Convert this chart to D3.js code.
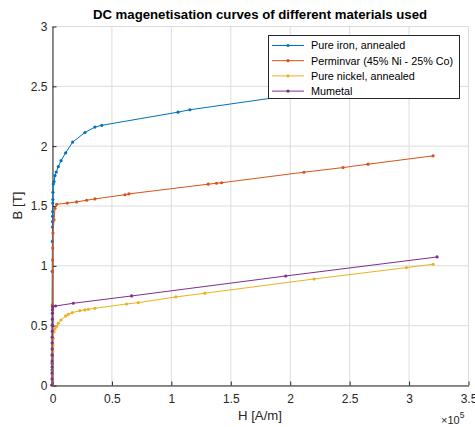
<!DOCTYPE html>
<html>
<head>
<meta charset="utf-8">
<script src="https://cdn.jsdelivr.net/npm/d3@7"></script>
<style>
  html, body { margin: 0; padding: 0; background: #fff; }
  svg { display: block; font-family: "Liberation Sans", Arial, sans-serif; }
</style>
</head>
<body>
<svg id="chart" width="475" height="427"></svg>
<script>
// DC magnetisation (B-H) curves; H in A/m, B in T
const pureIron = [
  [0, 0], [60, 0.125], [90, 0.18], [200, 0.95], [300, 1.2], [400, 1.32],
  [450, 1.365], [500, 1.41], [550, 1.45], [650, 1.52], [700, 1.55], [800, 1.61],
  [1100, 1.68], [1700, 1.70], [2500, 1.75], [3600, 1.78], [5300, 1.825],
  [7600, 1.875], [11500, 1.94], [17400, 2.03], [27700, 2.11], [36100, 2.155],
  [41800, 2.17], [106000, 2.28], [116000, 2.30], [321000, 2.59]
];
const perminvar = [
  [0, 0], [100, 0.25], [200, 0.5], [300, 0.67], [400, 0.947], [500, 1.045],
  [600, 1.145], [800, 1.27], [1700, 1.38], [2500, 1.477], [3900, 1.51],
  [12900, 1.52], [20700, 1.53], [29100, 1.544], [36100, 1.555], [61400, 1.59],
  [64700, 1.597], [131400, 1.678], [138400, 1.686], [142600, 1.69],
  [211900, 1.778], [244900, 1.817], [265900, 1.845], [320600, 1.915]
];
const pureNickel = [
  [0, 0], [200, 0.1], [400, 0.2], [600, 0.28], [800, 0.33], [1000, 0.39],
  [1700, 0.445], [2500, 0.47], [3900, 0.49], [5300, 0.516], [7600, 0.543],
  [11500, 0.577], [13700, 0.591], [17100, 0.605], [23500, 0.621], [27700, 0.627],
  [30500, 0.633], [36100, 0.641], [62800, 0.677], [72600, 0.688], [104200, 0.736],
  [128600, 0.767], [220500, 0.886], [298200, 0.981], [320600, 1.009]
];
const mumetal = [
  [0, 0], [20, 0.05], [40, 0.1], [60, 0.15], [80, 0.2], [100, 0.25], [120, 0.3],
  [150, 0.35], [180, 0.4], [220, 0.45], [260, 0.5], [300, 0.55], [350, 0.6],
  [400, 0.63], [500, 0.655], [3000, 0.66], [17900, 0.683], [67000, 0.744],
  [196700, 0.911], [324000, 1.07]
];

const seriesNames = ["Pure iron, annealed", "Perminvar (45% Ni - 25% Co)", "Pure nickel, annealed", "Mumetal"];
const seriesData = [pureIron, perminvar, pureNickel, mumetal];
const seriesColors = ["#0072BD", "#D95319", "#EDB120", "#7E2F8E"];

const xTicks = [0, 0.5e5, 1e5, 1.5e5, 2e5, 2.5e5, 3e5, 3.5e5];
const yTicks = [0, 0.5, 1, 1.5, 2, 2.5, 3];

const svg = d3.select("#chart");
const plotL = 52, plotR = 468, plotT = 26, plotB = 385;

const x = d3.scaleLinear().domain([0, 3.5e5]).range([plotL, plotR]);
const y = d3.scaleLinear().domain([0, 3]).range([plotB, plotT]);

const axisColor = "#262626";
const gridColor = "#dcdcdc";
const fontFamily = "'Liberation Sans', Arial, sans-serif";

// grid
const grid = svg.append("g");
grid.selectAll("line.gx").data(xTicks).join("line")
  .attr("x1", d => x(d) + 0.5).attr("x2", d => x(d) + 0.5)
  .attr("y1", plotT).attr("y2", plotB)
  .attr("stroke", gridColor).attr("stroke-width", 1);
grid.selectAll("line.gy").data(yTicks).join("line")
  .attr("y1", d => y(d) + 0.5).attr("y2", d => y(d) + 0.5)
  .attr("x1", plotL).attr("x2", plotR)
  .attr("stroke", gridColor).attr("stroke-width", 1);

// axes
const xAxis = d3.axisBottom(x).tickValues(xTicks).tickFormat(d => d3.format("~g")(d / 1e5))
  .tickSizeInner(-4).tickSizeOuter(0).tickPadding(9);
const yAxis = d3.axisLeft(y).tickValues(yTicks).tickFormat(d3.format("~g"))
  .tickSizeInner(-4).tickSizeOuter(0).tickPadding(5);

const gx = svg.append("g").attr("transform", `translate(0.5,${plotB + 0.5})`).call(xAxis);
const gy = svg.append("g").attr("transform", `translate(${plotL + 0.5},0.5)`).call(yAxis);
[gx, gy].forEach(g => {
  g.select(".domain").attr("stroke", axisColor);
  g.selectAll(".tick line").attr("stroke", axisColor);
  g.selectAll(".tick text").attr("fill", axisColor).attr("font-size", 12)
    .attr("font-family", fontFamily);
});

// curves
const line = d3.line().x(d => x(d[0])).y(d => y(d[1]));
seriesData.forEach((data, i) => {
  const g = svg.append("g");
  g.append("path").datum(data)
    .attr("d", line).attr("fill", "none")
    .attr("stroke", seriesColors[i]).attr("stroke-width", 1);
  g.selectAll("circle").data(data).join("circle")
    .attr("cx", d => x(d[0])).attr("cy", d => y(d[1]))
    .attr("r", 1.6).attr("fill", seriesColors[i]);
});

// title and labels
svg.append("text").attr("x", (plotL + plotR) / 2).attr("y", 19)
  .attr("text-anchor", "middle").attr("font-weight", "bold").attr("font-size", 13.2)
  .attr("fill", "#000").text("DC magenetisation curves of different materials used");

svg.append("text").attr("x", (plotL + plotR) / 2).attr("y", 420)
  .attr("text-anchor", "middle").attr("font-size", 13.2).attr("fill", axisColor)
  .text("H [A/m]");

svg.append("text").attr("transform", `translate(22,${(plotT + plotB) / 2}) rotate(-90)`)
  .attr("text-anchor", "middle").attr("font-size", 13.2).attr("fill", axisColor)
  .text("B [T]");

const exp = svg.append("text").attr("x", 441).attr("y", 424)
  .attr("font-size", 11).attr("fill", axisColor);
exp.append("tspan").text("\u00d710");
exp.append("tspan").attr("dy", -6).attr("font-size", 8.5).text("5");

// legend
const lg = svg.append("g");
lg.append("rect").attr("x", 268.5).attr("y", 35.5).attr("width", 191).attr("height", 63)
  .attr("fill", "#fff").attr("stroke", axisColor).attr("stroke-width", 1);
seriesNames.forEach((name, i) => {
  const ly = 45.5 + i * 15.2;
  lg.append("line").attr("x1", 272).attr("x2", 304).attr("y1", ly).attr("y2", ly)
    .attr("stroke", seriesColors[i]).attr("stroke-width", 1);
  lg.append("circle").attr("cx", 288).attr("cy", ly).attr("r", 1.6).attr("fill", seriesColors[i]);
  lg.append("text").attr("x", 311).attr("y", ly + 3.8).attr("font-size", 10.8)
    .attr("fill", "#000").text(name);
});
</script>
</body>
</html>
